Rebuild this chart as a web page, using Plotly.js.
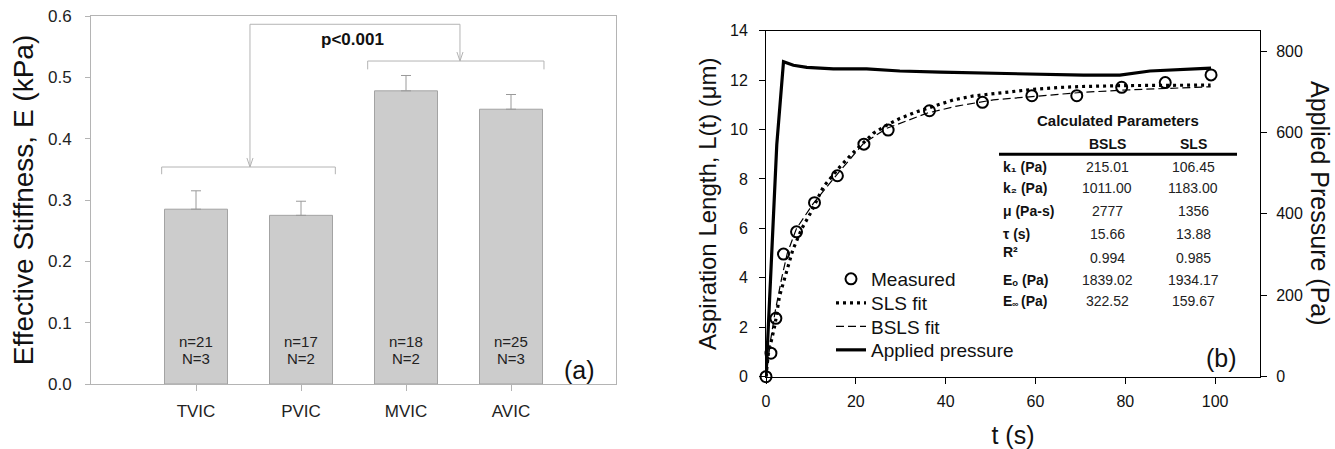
<!DOCTYPE html>
<html><head><meta charset="utf-8">
<script src="https://cdn.plot.ly/plotly-3.0.1.min.js"></script>
<style>html,body{margin:0;padding:0;background:#fff}#chart{width:1335px;height:449px}</style>
</head><body><div id="chart"></div>
<script>
// ---- Panel (a) data ----
const categories = ['TVIC', 'PVIC', 'MVIC', 'AVIC'];
const stiffness = [0.285, 0.275, 0.478, 0.448];
const stiffnessErr = [0.030, 0.023, 0.025, 0.024];
const nCells = ['n=21', 'n=17', 'n=18', 'n=25'];
const nDonors = ['N=3', 'N=2', 'N=2', 'N=3'];
const pLabel = 'p&lt;0.001';

// ---- Panel (b) data ----
const measT = [0, 1.1, 2.2, 3.9, 6.8, 10.8, 15.9, 21.8, 27.2, 36.4, 48.2, 59.2, 69.2, 79.2, 88.9, 99.1];
const measL = [0, 0.95, 2.36, 4.96, 5.86, 7.04, 8.13, 9.41, 9.98, 10.76, 11.10, 11.37, 11.37, 11.71, 11.90, 12.21];
const slsT = [0, 0.5, 1, 2, 3, 4, 5, 6, 8, 10, 12.8, 16.5, 19.1, 23.9, 26.9, 29.8, 33.6, 37.3, 41.7, 46.2, 52.1, 59.5, 65, 70, 80, 90, 99];
const slsL = [0, 0.9, 1.3, 2.1, 3.25, 3.9, 4.6, 5.15, 6.0, 6.65, 7.69, 8.5, 9.01, 9.85, 10.18, 10.45, 10.72, 10.95, 11.2, 11.36, 11.49, 11.63, 11.7, 11.74, 11.78, 11.8, 11.8];
const bslsT = [0, 0.5, 1, 2, 3, 3.5, 4.75, 6.8, 10.5, 15.7, 21.7, 26.9, 35.8, 42.5, 50.6, 58.8, 70, 80, 90, 99];
const bslsL = [0, 0.8, 1.45, 2.6, 3.6, 4.0, 5.0, 6.0, 7.0, 8.16, 9.44, 10.05, 10.66, 10.95, 11.2, 11.33, 11.5, 11.6, 11.68, 11.73];
const presT = [0, 2.4, 3.9, 6.1, 9.1, 15, 22.4, 29.8, 38.8, 49.9, 59.5, 70.7, 78.8, 85.5, 96.7, 99.1];
const presP = [0, 570, 774, 765, 760, 756, 756, 751, 748, 745, 743, 741, 741, 751, 757, 758];

// ---- Parameter table ----
const paramTitle = 'Calculated Parameters';
const paramCols = ['BSLS', 'SLS'];
const paramNames = ['k₁ (Pa)', 'k₂ (Pa)', 'μ (Pa-s)', 'τ (s)', 'R²', 'Eₒ (Pa)', 'E'];
const infSub = '∞';          // subscript of the last parameter name
const infUnit = '(Pa)';
const bslsVals = ['215.01', '1011.00', '2777', '15.66', '0.994', '1839.02', '322.52'];
const slsVals = ['106.45', '1183.00', '1356', '13.88', '0.985', '1934.17', '159.67'];

const W = 1335, H = 449;
const px = x => x / W;
const py = y => 1 - y / H;
const FONT = 'Liberation Sans, Arial, sans-serif';
const GRAY = '#b4b4b4';

const traces = [
  {
    type: 'bar', x: categories, y: stiffness, xaxis: 'x', yaxis: 'y', width: 0.6,
    marker: {color: '#cccccc', line: {color: '#a3a3a3', width: 1}},
    error_y: {type: 'data', symmetric: false, array: stiffnessErr, arrayminus: stiffnessErr.map(() => 0),
              color: '#9a9a9a', thickness: 1, width: 5},
    showlegend: false, hoverinfo: 'skip'
  },
  {
    type: 'scatter', mode: 'markers', name: 'Measured', x: measT, y: measL, xaxis: 'x2', yaxis: 'y2',
    marker: {symbol: 'circle-open', size: 11, color: '#000', line: {width: 2, color: '#000'}},
    cliponaxis: false, legend: 'legend'
  },
  {
    type: 'scatter', mode: 'lines', name: 'SLS fit', x: slsT, y: slsL, xaxis: 'x2', yaxis: 'y2',
    line: {color: '#000', width: 3.2, dash: '3px,4px'}, legend: 'legend2'
  },
  {
    type: 'scatter', mode: 'lines', name: 'BSLS fit', x: bslsT, y: bslsL, xaxis: 'x2', yaxis: 'y2',
    line: {color: '#000', width: 1.2, dash: '8px,4px'}, legend: 'legend3'
  },
  {
    type: 'scatter', mode: 'lines', name: 'Applied pressure', x: presT, y: presP, xaxis: 'x2', yaxis: 'y3',
    line: {color: '#000', width: 3.2}, legend: 'legend4'
  }
];

const BOLD = (size, color) => ({family: FONT, size: size, color: color || '#111', weight: 'bold'});
const annotations = [];
// n / N labels inside bars
categories.forEach((c, i) => {
  annotations.push({xref: 'x', yref: 'y', x: i, y: 0.0685, text: nCells[i], showarrow: false,
    font: {family: FONT, size: 15, color: '#222'}, xanchor: 'center', yanchor: 'middle'});
  annotations.push({xref: 'x', yref: 'y', x: i, y: 0.0408, text: nDonors[i], showarrow: false,
    font: {family: FONT, size: 15, color: '#222'}, xanchor: 'center', yanchor: 'middle'});
});
annotations.push({xref: 'x', yref: 'y', x: 1.495, y: 0.562, text: pLabel, showarrow: false,
  font: BOLD(17), xanchor: 'center', yanchor: 'middle'});
annotations.push({xref: 'paper', yref: 'paper', x: px(579), y: py(370), text: '(a)', showarrow: false,
  font: {family: FONT, size: 25, color: '#111'}, xanchor: 'center', yanchor: 'middle'});
annotations.push({xref: 'paper', yref: 'paper', x: px(1221), y: py(358), text: '(b)', showarrow: false,
  font: {family: FONT, size: 25, color: '#111'}, xanchor: 'center', yanchor: 'middle'});
// right axis title, reading top-to-bottom
annotations.push({xref: 'paper', yref: 'paper', x: px(1320), y: py(203), text: 'Applied Pressure (Pa)', showarrow: false,
  textangle: 90, font: {family: FONT, size: 25, color: '#111'}, xanchor: 'center', yanchor: 'middle'});
// parameter table
annotations.push({xref: 'paper', yref: 'paper', x: px(1118), y: py(120.5), text: paramTitle, showarrow: false,
  font: BOLD(15), xanchor: 'center', yanchor: 'middle'});
const colX = [1107, 1193];
paramCols.forEach((c, j) => annotations.push({xref: 'paper', yref: 'paper', x: px(colX[j]), y: py(143.5),
  text: c, showarrow: false, font: BOLD(14), xanchor: 'center', yanchor: 'middle'}));
const rowY = [166.7, 187.7, 210.7, 234, 257.7, 280, 301];
const labelY = [166.7, 187.7, 210.7, 234, 252, 280, 301];
paramNames.forEach((nm, i) => {
  annotations.push({xref: 'paper', yref: 'paper', x: px(1001), y: py(labelY[i]), text: nm, showarrow: false,
    font: BOLD(14), xanchor: 'left', yanchor: 'middle'});
  annotations.push({xref: 'paper', yref: 'paper', x: px(colX[0]), y: py(rowY[i]), text: bslsVals[i], showarrow: false,
    font: {family: FONT, size: 14, color: '#222'}, xanchor: 'center', yanchor: 'middle'});
  annotations.push({xref: 'paper', yref: 'paper', x: px(colX[1]), y: py(rowY[i]), text: slsVals[i], showarrow: false,
    font: {family: FONT, size: 14, color: '#222'}, xanchor: 'center', yanchor: 'middle'});
});
// small subscript ∞ and unit of the last row
annotations.push({xref: 'paper', yref: 'paper', x: px(1010.3), y: py(304), text: infSub, showarrow: false,
  font: BOLD(9), xanchor: 'left', yanchor: 'middle'});
annotations.push({xref: 'paper', yref: 'paper', x: px(1018.5), y: py(301), text: infUnit, showarrow: false,
  font: BOLD(14), xanchor: 'left', yanchor: 'middle'});

const bracketLine = {color: GRAY, width: 1};
const shapes = [
  // lower bracket (TVIC, PVIC)
  {type: 'path', xref: 'x', yref: 'y', path: 'M -0.327,0.342 L -0.327,0.3538 L 1.327,0.3538 L 1.327,0.342', line: bracketLine},
  // upper bracket (MVIC, AVIC)
  {type: 'path', xref: 'x', yref: 'y', path: 'M 1.635,0.513 L 1.635,0.5266 L 3.314,0.5266 L 3.314,0.513', line: bracketLine},
  // connector
  {type: 'path', xref: 'x', yref: 'y', path: 'M 0.514,0.3538 L 0.514,0.5865 L 2.514,0.5865 L 2.514,0.5266', line: bracketLine},
  // arrow heads
  {type: 'path', xref: 'x', yref: 'y', path: 'M 0.485,0.3685 L 0.514,0.3538 L 0.543,0.3685', line: bracketLine},
  {type: 'path', xref: 'x', yref: 'y', path: 'M 2.485,0.5413 L 2.514,0.5266 L 2.543,0.5413', line: bracketLine},
  // table rule
  {type: 'line', xref: 'paper', yref: 'paper', x0: px(999), x1: px(1237), y0: py(154.3), y1: py(154.3), line: {color: '#000', width: 3}}
];

function lg(y) {
  return {x: px(831), y: py(y), xanchor: 'left', yanchor: 'middle', bgcolor: 'rgba(0,0,0,0)', borderwidth: 0,
          font: {family: FONT, size: 19, color: '#111'}, itemwidth: 30, itemclick: false, itemdoubleclick: false};
}

const layout = {
  width: W, height: H, margin: {l: 0, r: 0, t: 0, b: 0}, paper_bgcolor: '#fff', plot_bgcolor: '#fff',
  font: {family: FONT, color: '#111'},
  xaxis: {domain: [px(91), px(616)], anchor: 'y', type: 'category', range: [-1, 4],
          showline: true, linecolor: GRAY, linewidth: 1, mirror: true, ticks: 'outside', ticklen: 6, tickcolor: GRAY,
          tickfont: {family: FONT, size: 17, color: '#222'}, ticklabelstandoff: 6, showgrid: false, zeroline: false},
  yaxis: {domain: [py(384), py(16)], anchor: 'x', range: [0, 0.6], dtick: 0.1, tickformat: '.1f',
          showline: true, linecolor: GRAY, linewidth: 1, mirror: true, ticks: 'outside', ticklen: 5, tickcolor: GRAY,
          tickfont: {family: FONT, size: 17, color: '#222'}, ticklabelstandoff: 10, showgrid: false, zeroline: false,
          title: {text: 'Effective Stiffness, E (kPa)', font: {family: FONT, size: 28, color: '#111'}, standoff: 6}},
  xaxis2: {domain: [px(766), px(1260)], anchor: 'y2', range: [0, 110], tickvals: [0, 20, 40, 60, 80, 100],
           showline: true, linecolor: '#000', linewidth: 1, mirror: true, ticks: 'outside', ticklen: 6, tickcolor: '#000',
           tickfont: {family: FONT, size: 16, color: '#111'}, ticklabelstandoff: 4, showgrid: false, zeroline: false,
           title: {text: 't (s)', font: {family: FONT, size: 25, color: '#111'}, standoff: 17}},
  yaxis2: {domain: [py(376.7), py(30.7)], anchor: 'x2', range: [0, 14], dtick: 2,
           showline: true, linecolor: '#000', linewidth: 1, ticks: 'outside', ticklen: 6, tickcolor: '#000',
           tickfont: {family: FONT, size: 16, color: '#111'}, ticklabelstandoff: 8, showgrid: false, zeroline: false,
           title: {text: 'Aspiration Length, L(t) (μm)', font: {family: FONT, size: 24, color: '#111'}, standoff: 6}},
  yaxis3: {overlaying: 'y2', anchor: 'x2', side: 'right', range: [0, 850], tickvals: [0, 200, 400, 600, 800],
           showline: true, linecolor: '#000', linewidth: 1, ticks: 'outside', ticklen: 6, tickcolor: '#000',
           tickfont: {family: FONT, size: 16, color: '#111'}, ticklabelstandoff: 6, showgrid: false, zeroline: false},
  legend: lg(279), legend2: lg(303), legend3: lg(326.5), legend4: lg(350),
  annotations: annotations, shapes: shapes, bargap: 0.4
};

Plotly.newPlot('chart', traces, layout, {staticPlot: true, displayModeBar: false});
</script>
</body></html>
